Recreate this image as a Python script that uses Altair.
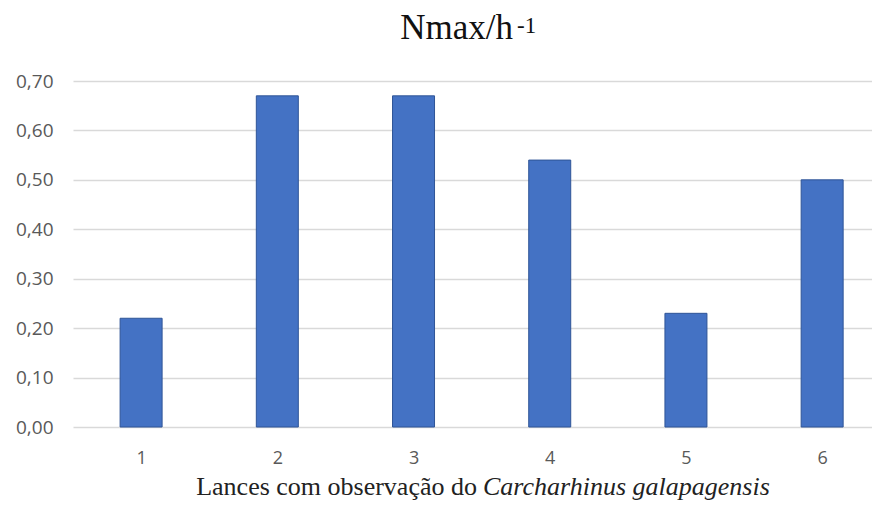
import altair as alt
import pandas as pd

lances = [1, 2, 3, 4, 5, 6]
nmax = [0.22, 0.67, 0.67, 0.54, 0.23, 0.50]
y_ticks = [0.0, 0.1, 0.2, 0.3, 0.4, 0.5, 0.6, 0.7]
title_main = "Nmax/h"
title_sup = "-1"
xtitle_plain = "Lances com observação do"
xtitle_italic = "Carcharhinus galapagensis"

df = pd.DataFrame({"lance": lances, "nmax": nmax})

W, H = 799, 346

x = alt.X("lance:Q",
          scale=alt.Scale(domain=[0.5, 6.366], nice=False, zero=False, padding=0),
          axis=alt.Axis(values=lances, format="d", title=None, grid=False,
                        domain=False, ticks=False, labelPadding=22,
                        labelFont="Open Sans", labelFontSize=18,
                        labelColor="#595959"))
y = alt.Y("nmax:Q",
          scale=alt.Scale(domain=[0, 0.7], nice=False),
          axis=alt.Axis(values=y_ticks, title=None, grid=True,
                        gridColor="#d9d9d9", gridWidth=1.5,
                        domain=False, ticks=False, labelPadding=20,
                        labelFont="Open Sans", labelFontSize=19,
                        labelColor="#595959",
                        labelExpr="replace(format(datum.value, '.2f'), '.', ',')"))

bars = alt.Chart(df).mark_bar(size=42, color="#4472C4", stroke="#2F5597",
                              strokeWidth=1).encode(x=x, y=y)

def txt(s, **kw):
    return alt.Chart(pd.DataFrame({"t": [s]})).mark_text(**kw).encode(text="t:N")

t_main = txt(title_main, font="Liberation Serif", fontSize=35, align="right",
             baseline="alphabetic", color="#111111").encode(
    x=alt.value(440), y=alt.value(-42))
t_sup = txt(title_sup, font="Liberation Serif", fontSize=23, align="left",
            baseline="alphabetic", color="#111111").encode(
    x=alt.value(444), y=alt.value(-48))
x_plain = txt(xtitle_plain, font="Liberation Serif", fontSize=26, align="right",
              baseline="alphabetic", color="#222222").encode(
    x=alt.value(404), y=alt.value(414))
x_ital = txt(xtitle_italic, font="Liberation Serif", fontSize=26, align="left",
             baseline="alphabetic", fontStyle="italic", color="#222222").encode(
    x=alt.value(410), y=alt.value(414))

chart = alt.layer(bars, t_main, t_sup, x_plain, x_ital).properties(
    width=W, height=H,
    autosize=alt.AutoSizeParams(type="none"),
    padding={"left": 65, "top": 73, "right": 0, "bottom": 73},
).configure_view(stroke=None)

chart.save("out.html", embed_options={"renderer": "svg", "actions": False})
